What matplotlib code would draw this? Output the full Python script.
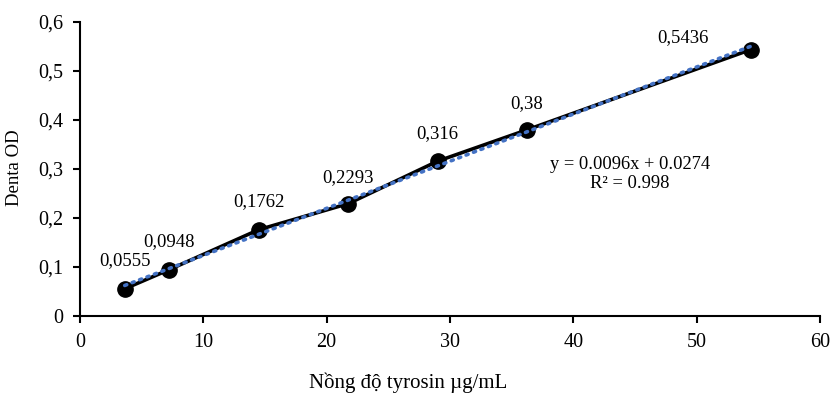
import matplotlib.pyplot as plt
import numpy as np

plt.rcParams['font.family'] = ['Liberation Serif', 'DejaVu Serif']

conc = [3.625, 7.25, 14.5, 21.75, 29, 36.25, 54.375]
od = [0.0555, 0.0948, 0.1762, 0.2293, 0.316, 0.38, 0.5436]
od_labels = ["0,0555", "0,0948", "0,1762", "0,2293", "0,316", "0,38", "0,5436"]
yticks = [0, 0.1, 0.2, 0.3, 0.4, 0.5, 0.6]
ytick_labels = ["0", "0,1", "0,2", "0,3", "0,4", "0,5", "0,6"]
xticks = [0, 10, 20, 30, 40, 50, 60]

fig = plt.figure(figsize=(8.32, 3.94), dpi=100)
ax = fig.add_axes([80 / 832, 1 - 316 / 394, 740 / 832, 294 / 394])

# linear trendline
k, b = np.polyfit(conc, od, 1)
xs = np.array([conc[0], conc[-1]])
ax.plot(xs, k * xs + b, color="#4472c4", linestyle=(0, (0.6, 1.6)),
        linewidth=2.6, dash_capstyle="round", zorder=3)

ax.plot(conc, od, color="black", linewidth=2.6, marker="o", markersize=11, zorder=2)

offsets = [(0, 20), (0, 20), (0, 20), (0, 19), (0, 19.5), (0, 19), (-49, 8.6)]
for x, y, s, off in zip(conc, od, od_labels, offsets):
    ax.annotate(s, (x, y), xytext=off, textcoords="offset points",
                ha="center", va="center", fontsize=13.5)

ax.text(44.6, 0.29, "y = 0.0096x + 0.0274\nR² = 0.998",
        ha="center", va="center", fontsize=13.3, linespacing=1.2)

ax.set_xlim(0, 60)
ax.set_ylim(0, 0.6)
ax.set_xticks(xticks)
ax.set_yticks(yticks)
ax.set_yticklabels(ytick_labels)
ax.tick_params(labelsize=14.5, width=1.5, length=5, color="black")
ax.tick_params(axis="y", pad=7)
ax.tick_params(axis="x", pad=7.5)
for side in ["top", "right"]:
    ax.spines[side].set_visible(False)
for side in ["left", "bottom"]:
    ax.spines[side].set_linewidth(1.5)

fig.text(408 / 832, 1 - 383 / 394, "Nồng độ tyrosin µg/mL", fontsize=15,
         ha="center", va="center")
fig.text(15 / 832, 1 - 168 / 394, "Denta OD", fontsize=13.5, rotation=90,
         ha="center", va="center")

fig.savefig("out.png", dpi=100)
